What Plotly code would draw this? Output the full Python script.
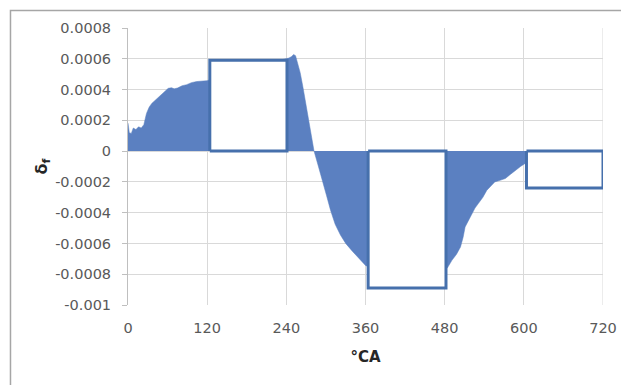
import plotly.graph_objects as go

# Crank angle (deg) and delta_f values of the filled curve
angle = [0, 2, 5, 8, 12, 16, 20, 24, 28, 32, 36, 42, 48, 55, 61, 66, 70, 75, 82, 89, 96, 104, 112, 120,
         150, 180, 210, 240, 244, 248, 251, 254, 258, 261, 265, 270, 274, 278, 282, 288, 295, 301, 307,
         314, 322, 330, 340, 350, 360, 390, 420, 450, 480, 484, 491, 498, 504, 508, 511, 516, 521, 526,
         531, 538, 544, 550, 556, 564, 572, 580, 587, 595, 602, 630, 660, 690, 720]
delta_f = [0.000182, 0.00012, 0.000115, 0.00015, 0.00014, 0.000158, 0.00015, 0.000172, 0.000245,
           0.000285, 0.00031, 0.000335, 0.000355, 0.000385, 0.000408, 0.000412, 0.000405, 0.00041,
           0.000425, 0.000432, 0.000445, 0.000452, 0.000456, 0.000458,
           0.0005, 0.00054, 0.00057, 0.000602, 0.000605, 0.000615, 0.000628, 0.00062, 0.00056, 0.00051,
           0.00042, 0.00029, 0.00019, 0.0001, 0.0, -0.00009, -0.000189, -0.00029, -0.000384,
           -0.000475, -0.000545, -0.0006, -0.00065, -0.000697, -0.000743, -0.0008, -0.00082, -0.0008,
           -0.000765, -0.00076, -0.00071, -0.00067, -0.000623, -0.00056, -0.000493, -0.00045, -0.000406,
           -0.00037, -0.000341, -0.0003, -0.000254, -0.000225, -0.0002, -0.00019, -0.000178, -0.00015,
           -0.000124, -0.0001, -0.00008, -0.00006, -0.00005, -0.00004, -0.00003]

# Interval averages drawn as outlined boxes
box_start = [124, 364, 604]
box_end = [241, 482, 720]
box_value = [0.00059, -0.00089, -0.00024]

x_ticks = [0, 120, 240, 360, 480, 600, 720]
y_ticks = [0.0008, 0.0006, 0.0004, 0.0002, 0, -0.0002, -0.0004, -0.0006, -0.0008, -0.001]
y_labels = ["0.0008", "0.0006", "0.0004", "0.0002", "0", "-0.0002", "-0.0004", "-0.0006", "-0.0008", "-0.001"]

FILL = "#5B80C1"
EDGE = "#4670AC"
GRID = "#D9D9D9"
TXT = "#595959"
BORDER = "#A6A6A6"

fig = go.Figure()
fig.add_trace(go.Scatter(x=angle, y=delta_f, mode="lines", fill="tozeroy",
                         line=dict(color=FILL, width=0.5), fillcolor=FILL,
                         hoverinfo="skip", showlegend=False))
for s, e, v in zip(box_start, box_end, box_value):
    fig.add_trace(go.Scatter(x=[s, e, e, s, s], y=[0, 0, v, v, 0], mode="lines",
                             fill="toself", fillcolor="white",
                             line=dict(color=EDGE, width=3),
                             hoverinfo="skip", showlegend=False))

fig.update_layout(
    width=621, height=377,
    margin=dict(l=120, r=24, t=20, b=80),
    paper_bgcolor="white", plot_bgcolor="white",
    font=dict(family="DejaVu Sans", size=14.5, color=TXT),
    xaxis=dict(range=[0, 720], tickvals=x_ticks, ticktext=[str(t) for t in x_ticks],
               showgrid=True, gridcolor=GRID, gridwidth=1, zeroline=False,
               showline=False, ticks="", ticklabelstandoff=12,
               title=dict(text="<b>°CA</b>", font=dict(size=15, color="#262626"), standoff=16)),
    yaxis=dict(range=[-0.001, 0.0008], tickvals=y_ticks, ticktext=y_labels,
               showgrid=True, gridcolor=GRID, gridwidth=1, zeroline=False,
               showline=True, linecolor="#BFBFBF", linewidth=1,
               ticks="outside", ticklen=5, tickcolor="#BFBFBF", ticklabelstandoff=8,
               title=dict(text="<b>δ<sub>f</sub></b>", font=dict(size=16, color="#262626"), standoff=3)),
    shapes=[
        dict(type="rect", xref="paper", yref="paper", x0=-0.2474, x1=1.1, y0=-0.35, y1=1.063,
             line=dict(color=BORDER, width=1.5), fillcolor="rgba(0,0,0,0)", layer="above"),
        dict(type="line", xref="x", yref="paper", x0=720, x1=720, y0=0, y1=1,
             line=dict(color=GRID, width=1), layer="below"),
    ],
)

fig.write_html("out.html")
